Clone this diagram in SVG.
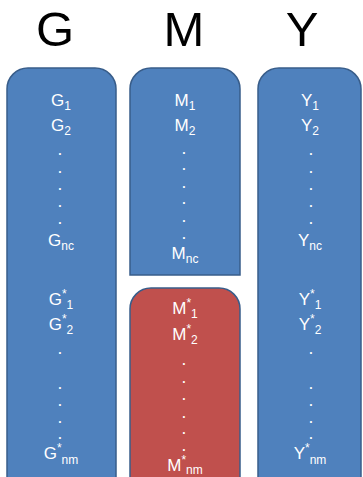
<svg xmlns="http://www.w3.org/2000/svg" width="363" height="477" viewBox="0 0 363 477">
<style>
.box{stroke:#385D8A;stroke-width:1.5}
.blue{fill:#4F81BD}
.red{fill:#C0504D}
.title{font-family:"Liberation Sans",Arial,sans-serif;font-size:49px;fill:#000;text-anchor:middle}
.t{font-family:"Liberation Sans",Arial,sans-serif;font-size:17px;fill:#fff;text-anchor:middle}
.d{font-family:"Liberation Sans",Arial,sans-serif;font-size:12px;font-weight:bold;fill:#fff;text-anchor:middle}
.s{font-size:12px}
</style>
<rect width="363" height="477" fill="#fff"/>
<g id="titles">
<text class="title" x="55" y="46">G</text>
<text class="title" x="184" y="46">M</text>
<text class="title" x="302" y="46">Y</text>
</g>
<g id="node-G">
<path class="box blue" d="M7,89 A21,21 0 0 1 28,68 H95 A21,21 0 0 1 116,89 V490 H7 Z"/>
<text class="t" x="61" y="106">G<tspan class="s" dy="4">1</tspan></text>
<text class="t" x="61" y="131">G<tspan class="s" dy="4">2</tspan></text>
<text class="d" x="60" y="155">.</text>
<text class="d" x="60" y="173">.</text>
<text class="d" x="60" y="190">.</text>
<text class="d" x="60" y="207">.</text>
<text class="d" x="60" y="224">.</text>
<text class="t" x="61" y="246">G<tspan class="s" dy="4">nc</tspan></text>
<text class="t" x="61" y="305">G<tspan class="s" dy="-7">*</tspan><tspan class="s" dy="11">1</tspan></text>
<text class="t" x="61" y="330">G<tspan class="s" dy="-7">*</tspan><tspan class="s" dy="11">2</tspan></text>
<text class="d" x="60" y="354">.</text>
<text class="d" x="60" y="389">.</text>
<text class="d" x="60" y="406">.</text>
<text class="d" x="60" y="423">.</text>
<text class="d" x="60" y="439">.</text>
<text class="t" x="61" y="459">G<tspan class="s" dy="-7">*</tspan><tspan class="s" dy="12">nm</tspan></text>
</g>
<g id="node-M">
<path class="box blue" d="M130,89 A21,21 0 0 1 151,68 H219 A21,21 0 0 1 240,89 V275 H130 Z"/>
<text class="t" x="185" y="106">M<tspan class="s" dy="4">1</tspan></text>
<text class="t" x="185" y="131">M<tspan class="s" dy="4">2</tspan></text>
<text class="d" x="184" y="154">.</text>
<text class="d" x="184" y="170">.</text>
<text class="d" x="184" y="188">.</text>
<text class="d" x="184" y="204">.</text>
<text class="d" x="184" y="222">.</text>
<text class="d" x="184" y="239">.</text>
<text class="t" x="185" y="259">M<tspan class="s" dy="4">nc</tspan></text>
</g>
<g id="node-Mstar">
<path class="box red" d="M130,309 A21,21 0 0 1 151,288 H219 A21,21 0 0 1 240,309 V490 H130 Z"/>
<text class="t" x="185" y="314">M<tspan class="s" dy="-7">*</tspan><tspan class="s" dy="11">1</tspan></text>
<text class="t" x="185" y="340">M<tspan class="s" dy="-7">*</tspan><tspan class="s" dy="11">2</tspan></text>
<text class="d" x="184" y="365">.</text>
<text class="d" x="184" y="383">.</text>
<text class="d" x="184" y="400">.</text>
<text class="d" x="184" y="418">.</text>
<text class="d" x="184" y="434">.</text>
<text class="d" x="184" y="451">.</text>
<text class="t" x="185" y="471">M<tspan class="s" dy="-7">*</tspan><tspan class="s" dy="10">nm</tspan></text>
</g>
<g id="node-Y">
<path class="box blue" d="M258,89 A21,21 0 0 1 279,68 H340 A21,21 0 0 1 361,89 V490 H258 Z"/>
<text class="t" x="310" y="106">Y<tspan class="s" dy="4">1</tspan></text>
<text class="t" x="310" y="131">Y<tspan class="s" dy="4">2</tspan></text>
<text class="d" x="311" y="155">.</text>
<text class="d" x="311" y="173">.</text>
<text class="d" x="311" y="190">.</text>
<text class="d" x="311" y="207">.</text>
<text class="d" x="311" y="224">.</text>
<text class="t" x="310" y="246">Y<tspan class="s" dy="4">nc</tspan></text>
<text class="t" x="310" y="305">Y<tspan class="s" dy="-7">*</tspan><tspan class="s" dy="11">1</tspan></text>
<text class="t" x="310" y="330">Y<tspan class="s" dy="-7">*</tspan><tspan class="s" dy="11">2</tspan></text>
<text class="d" x="311" y="354">.</text>
<text class="d" x="311" y="389">.</text>
<text class="d" x="311" y="406">.</text>
<text class="d" x="311" y="423">.</text>
<text class="d" x="311" y="439">.</text>
<text class="t" x="310" y="459">Y<tspan class="s" dy="-7">*</tspan><tspan class="s" dy="12">nm</tspan></text>
</g>
</svg>
